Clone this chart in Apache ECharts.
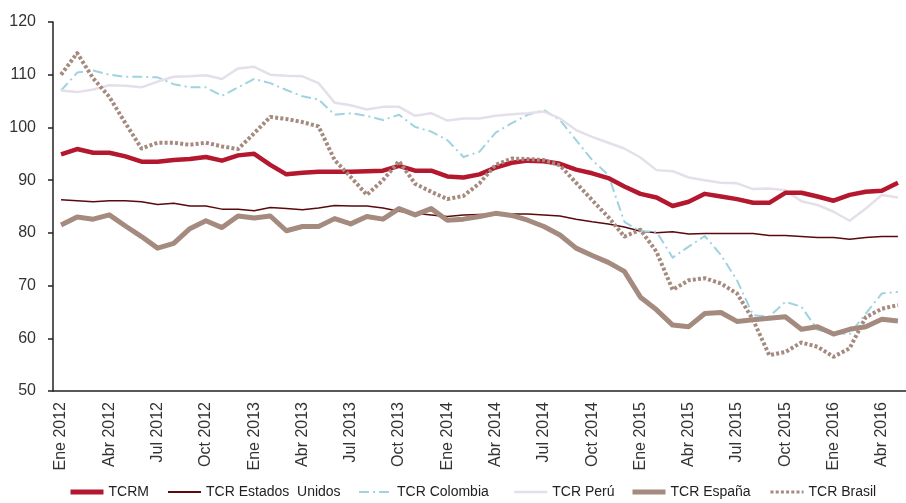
<!DOCTYPE html>
<html>
<head>
<meta charset="utf-8">
<script src="https://cdn.jsdelivr.net/npm/echarts@6/dist/echarts.min.js"></script>
<style>
html,body{margin:0;padding:0;background:#fff;}
#chart{width:906px;height:503px;}
</style>
</head>
<body>
<div id="chart"></div>
<script>
var monthNames = ["Ene","Feb","Mar","Abr","May","Jun","Jul","Ago","Sep","Oct","Nov","Dic"];
var years = [2012, 2013, 2014, 2015, 2016];
var nMonths = 53; // Ene 2012 .. May 2016
var categories = [];
for (var i = 0; i < nMonths; i++) {
  categories.push(monthNames[i % 12] + " " + years[Math.floor(i / 12)]);
}

var seriesNames = ['TCRM', 'TCR Estados  Unidos', 'TCR Colombia', 'TCR Perú', 'TCR España', 'TCR Brasil'];

var tcrm = [94.9,95.9,95.2,95.2,94.5,93.5,93.5,93.8,94.0,94.4,93.7,94.7,95.0,92.9,91.1,91.4,91.6,91.6,91.6,91.7,91.8,92.7,91.8,91.8,90.7,90.5,91.1,92.4,93.3,93.7,93.6,93.1,92.0,91.3,90.4,88.8,87.4,86.7,85.1,85.9,87.4,86.9,86.4,85.7,85.7,87.6,87.6,86.9,86.1,87.2,87.8,88.0,89.5];
var tcrUSA = [86.3,86.1,85.9,86.1,86.1,85.9,85.4,85.6,85.1,85.1,84.5,84.5,84.2,84.8,84.6,84.4,84.7,85.2,85.1,85.1,84.7,84.1,83.7,83.4,83.1,83.4,83.5,83.5,83.6,83.6,83.4,83.2,82.6,82.1,81.7,81.1,80.3,80.0,80.2,79.8,79.9,79.9,79.9,79.9,79.5,79.5,79.3,79.1,79.1,78.8,79.1,79.3,79.3];
var tcrColombia = [107.0,110.4,110.8,110.0,109.6,109.6,109.5,108.2,107.6,107.6,106.0,107.6,109.2,108.4,107.1,105.9,105.3,102.4,102.7,102.2,101.4,102.4,100.1,99.2,97.6,94.4,95.4,99.0,100.8,102.4,103.3,101.4,97.6,93.8,91.0,82.1,80.3,80.2,75.3,77.4,79.4,75.8,71.0,64.4,64.1,66.9,66.0,61.6,61.0,60.8,64.7,68.5,68.8];
var tcrPeru = [107.0,106.7,107.2,108.0,107.9,107.6,108.7,109.6,109.7,109.9,109.2,111.2,111.5,110.0,109.8,109.7,108.4,104.7,104.2,103.4,103.9,103.9,102.2,102.7,101.3,101.7,101.7,102.2,102.5,102.7,103.0,101.7,99.5,98.2,97.1,96.0,94.3,91.9,91.7,90.5,90.0,89.5,89.4,88.3,88.4,88.1,86.0,85.3,84.0,82.3,84.6,87.2,86.7];
var tcrEspana = [81.5,83.0,82.6,83.4,81.3,79.3,77.1,78.0,80.8,82.3,81.0,83.2,82.8,83.2,80.4,81.2,81.2,82.7,81.7,83.1,82.6,84.6,83.4,84.6,82.4,82.6,83.1,83.7,83.3,82.4,81.2,79.6,77.1,75.7,74.4,72.7,67.8,65.4,62.5,62.2,64.7,64.9,63.2,63.5,63.8,64.1,61.7,62.2,60.8,61.7,62.2,63.6,63.3];
var tcrBrasil = [110.0,114.1,109.3,105.8,100.8,96.0,97.1,97.1,96.7,97.1,96.4,95.9,98.9,102.0,101.6,101.0,100.2,93.8,90.6,87.2,90.0,93.6,89.3,87.8,86.4,87.0,89.4,92.9,94.1,94.0,93.8,92.8,89.5,86.2,83.0,79.3,80.6,76.4,69.2,71.0,71.4,70.4,68.5,63.5,56.8,57.4,59.2,58.4,56.5,58.1,64.0,65.6,66.3];

var yTicks = [50, 60, 70, 80, 90, 100, 110, 120];

var sans = "'Liberation Sans',Arial,Helvetica,sans-serif";

var styles = [
  {color: '#b3182f', width: 4.5, type: 'solid', z: 6, lw: 5},
  {color: '#5a0a0c', width: 1.5, type: 'solid', z: 2, lw: 2},
  {color: '#9fd3e0', width: 2, type: [10, 4, 2, 4], z: 3, lw: 2},
  {color: '#e5dfe9', width: 2.5, type: 'solid', z: 4, lw: 2.5},
  {color: '#a58a7f', width: 5, type: 'solid', z: 5, lw: 5},
  {color: '#a58a7f', width: 4, type: [3, 2.2], z: 7, lw: 3}
];
var seriesData = [tcrm, tcrUSA, tcrColombia, tcrPeru, tcrEspana, tcrBrasil];
var legendLeft = [68, 167, 358, 513, 630, 769];

var series = [], legends = [];
for (var s = 0; s < seriesNames.length; s++) {
  var st = styles[s];
  series.push({
    name: seriesNames[s], type: 'line', data: seriesData[s], symbol: 'none', z: st.z,
    lineStyle: {color: st.color, width: st.width, type: st.type, join: 'round', cap: 'butt'},
    itemStyle: {color: st.color},
    emphasis: {disabled: true}
  });
  legends.push({
    left: legendLeft[s], top: 485, padding: 0, itemWidth: 33, itemHeight: 14,
    itemStyle: {opacity: 0},
    lineStyle: {width: st.lw},
    textStyle: {fontSize: 14, color: '#222', fontFamily: sans},
    data: [seriesNames[s]]
  });
}

var chart = echarts.init(document.getElementById('chart'), null, {renderer: 'canvas'});
chart.setOption({
  animation: false,
  backgroundColor: '#ffffff',
  grid: {left: 53, top: 22, width: 864.5, height: 369, containLabel: false},
  xAxis: {
    type: 'category', data: categories, boundaryGap: true,
    axisLine: {lineStyle: {color: '#222', width: 1.5}},
    axisTick: {interval: 2, length: 5, lineStyle: {color: '#222', width: 1.5}},
    axisLabel: {interval: 2, rotate: 90, margin: 11, color: '#333', fontSize: 16, fontFamily: sans}
  },
  yAxis: {
    type: 'value', min: yTicks[0], max: yTicks[yTicks.length - 1], interval: 10,
    splitLine: {show: false},
    axisLine: {show: true, lineStyle: {color: '#222', width: 1.5}},
    axisTick: {show: true, length: 5, lineStyle: {color: '#222', width: 1.5}},
    axisLabel: {margin: 17, color: '#333', fontSize: 16, fontFamily: sans}
  },
  legend: legends,
  series: series
});
</script>
</body>
</html>
